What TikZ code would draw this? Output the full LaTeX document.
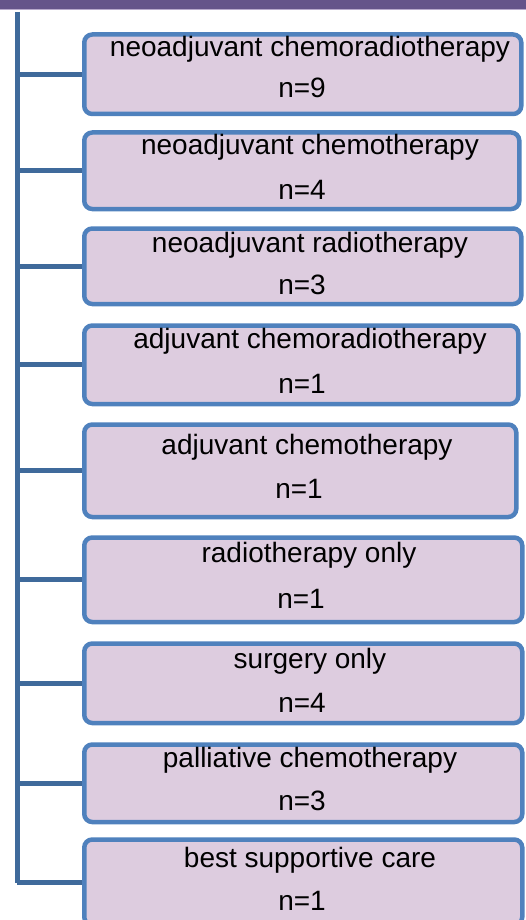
\documentclass[tikz,border=0pt]{standalone}
\usepackage{fontspec}
\setmainfont{Liberation Sans}
\definecolor{barpurple}{HTML}{65548A}
\definecolor{barline}{HTML}{B8A9CC}
\definecolor{trunkblue}{HTML}{3F6A9B}
\definecolor{boxblue}{HTML}{4F81BD}
\definecolor{boxfill}{HTML}{DDCCDF}

\begin{document}
\begin{tikzpicture}[x = 1pt, y = -1pt, font = \fontsize{28}{34}\selectfont,
  arm/.style = {line width = 5pt, trunkblue},
  group/.style = {draw = boxblue, fill = boxfill, line width = 4.5pt, rounded corners = 8pt, anchor = north west, inner sep = 0pt}]
\useasboundingbox (0,0) rectangle (526,920);
\fill [barpurple] (0,0) rectangle (526,9);
\fill [barline] (0,9) rectangle (526,10.5);
\coordinate (top) at (17,12);
\coordinate (bottom) at (17,882.5);
\draw [line width = 5pt, trunkblue] (top) -- (bottom);
\foreach \i/\ytop/\ybot/\xr/\ya/\yb/\xa/\txt/\cnt in {
  1/30/114/521/57/98/310/neoadjuvant chemoradiotherapy/9,
  2/128/209/519/155/199/310/neoadjuvant chemotherapy/4,
  3/224/304/521/252/294/310/neoadjuvant radiotherapy/3,
  4/321/404/518/348/393/310/adjuvant chemoradiotherapy/1,
  5/420/517/516/454/498/307/adjuvant chemotherapy/1,
  6/533/622/522/562/608/309/radiotherapy only/1,
  7/639/723/522/668/712/310/surgery only/4,
  8/740/822/522/767/810/310/palliative chemotherapy/3,
  9/835/925/522/867/910/310/best supportive care/1}
{
  \node [group, minimum width = \xr pt - 84pt, minimum height = \ybot pt - \ytop pt - 4.5pt] (box\i) at (82,{\ytop+2.25}) {};
  \node [anchor = base] (label\i) at (\xa,\ya) {\txt};
  \node [anchor = base] (count\i) at ({\xa-8},\yb) {n=\cnt};
  \draw [arm] (box\i.west -| bottom) -- (box\i.west);
}
\end{tikzpicture}
\end{document}
